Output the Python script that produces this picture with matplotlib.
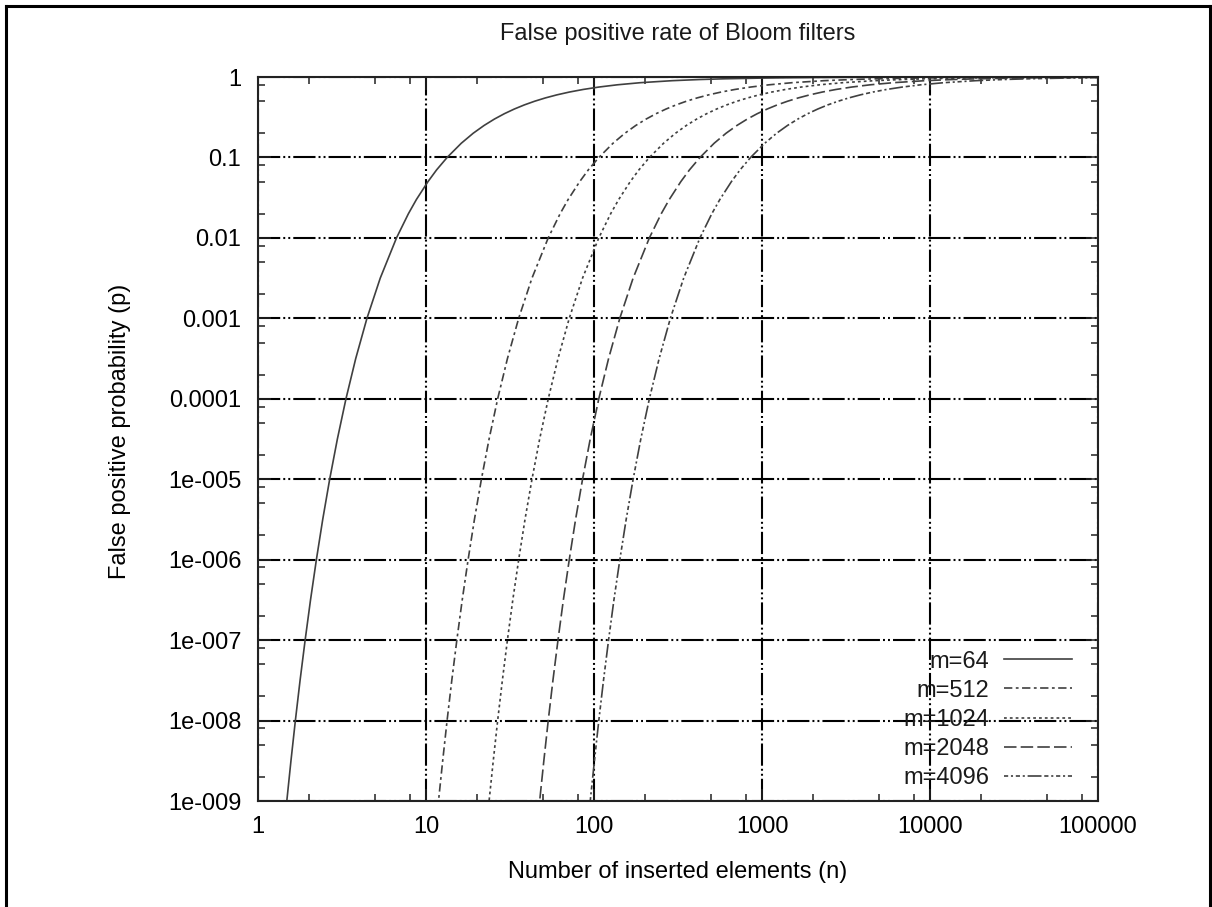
import matplotlib
matplotlib.use('Agg')
import matplotlib.pyplot as plt
from matplotlib.ticker import LogLocator, NullFormatter, FixedLocator, FixedFormatter
from matplotlib.lines import Line2D

p_levels = [1e-10, 3.16e-10, 1e-9, 3.16e-9, 1e-8, 3.16e-8, 1e-7, 3.16e-7, 1e-6, 3.16e-6,
            1e-5, 3.16e-5, 1e-4, 3.16e-4, 1e-3, 3.16e-3, 0.01, 0.02, 0.03, 0.05, 0.07, 0.1,
            0.15, 0.2, 0.25, 0.3, 0.35, 0.4, 0.45, 0.5, 0.55, 0.6, 0.65, 0.7, 0.75, 0.8, 0.85, 0.9,
            0.93, 0.95, 0.97, 0.98, 0.99, 0.995, 0.998, 0.999, 0.9995, 0.9999]

# n at which each curve reaches the p levels above
n_m64 = [1.336, 1.405, 1.484, 1.571, 1.669, 1.780, 1.908, 2.054, 2.226, 2.428,
         2.671, 2.968, 3.339, 3.816, 4.451, 5.341, 6.675, 7.859, 8.768, 10.27, 11.56, 13.36,
         16.21, 19.10, 22.18, 25.54, 29.29, 33.56, 38.51, 44.36, 51.43, 60.19, 71.36, 86.21, 106.9, 137.8, 189.2, 291.8,
         423.7, 599.5, 1009, 1522, 3059, 6134, 15360, 30720, 61500, 307500]
n_m512 = [10.69, 11.24, 11.87, 12.57, 13.35, 14.24, 15.26, 16.43, 17.81, 19.42,
          21.37, 23.74, 26.71, 30.53, 35.61, 42.73, 53.40, 62.87, 70.14, 82.16, 92.48, 106.9,
          129.7, 152.8, 177.4, 204.3, 234.3, 268.5, 308.1, 354.9, 411.4, 481.5, 570.9, 689.7, 855.2, 1102, 1514, 2334,
          3390, 4796, 8072, 12180, 24470, 49070, 122900, 245800, 492000, 2460000]
n_m1024 = [21.38, 22.48, 23.74, 25.14, 26.70, 28.48, 30.52, 32.86, 35.62, 38.84,
           42.74, 47.48, 53.42, 61.06, 71.22, 85.46, 106.8, 125.7, 140.3, 164.3, 185.0, 213.8,
           259.4, 305.6, 354.8, 408.6, 468.6, 537.0, 616.2, 709.8, 822.8, 963.0, 1142, 1379, 1710, 2204, 3028, 4668,
           6780, 9592, 16140, 24360, 48940, 98140, 245800, 491600, 984000, 4920000]
n_m2048 = [42.76, 44.96, 47.48, 50.28, 53.40, 56.96, 61.04, 65.72, 71.24, 77.68,
           85.48, 94.96, 106.8, 122.1, 142.4, 170.9, 213.6, 251.4, 280.6, 328.6, 370.0, 427.6,
           518.8, 611.2, 709.6, 817.2, 937.2, 1074, 1232, 1420, 1646, 1926, 2284, 2758, 3420, 4408, 6056, 9336,
           13560, 19180, 32280, 48720, 97880, 196300, 491600, 983200, 1968000, 9840000]
n_m4096 = [85.52, 89.92, 94.96, 100.6, 106.8, 113.9, 122.1, 131.4, 142.5, 155.4,
           171.0, 189.9, 213.6, 244.2, 284.8, 341.8, 427.2, 502.8, 561.2, 657.2, 740.0, 855.2,
           1038, 1222, 1419, 1634, 1874, 2148, 2464, 2840, 3292, 3852, 4568, 5516, 6840, 8816, 12110, 18670,
           27120, 38360, 64560, 97440, 195800, 392600, 983200, 1966000, 3936000, 19680000]

labels = ['m=64', 'm=512', 'm=1024', 'm=2048', 'm=4096']

xticks = [1, 10, 100, 1000, 10000, 100000]
xtick_labels = ['1', '10', '100', '1000', '10000', '100000']
yticks = [1e-9, 1e-8, 1e-7, 1e-6, 1e-5, 1e-4, 1e-3, 1e-2, 1e-1, 1]
ytick_labels = ['1e-009', '1e-008', '1e-007', '1e-006', '1e-005', '0.0001', '0.001', '0.01', '0.1', '1']

plt.rcParams['font.family'] = ['Liberation Sans', 'DejaVu Sans']
plt.rcParams['font.size'] = 17
plt.rcParams['lines.scale_dashes'] = False
plt.rcParams['text.color'] = '#1a1a1a'

fig = plt.figure(figsize=(12.12, 9.07), dpi=100)
ax = fig.add_axes([258/1212, 1 - 801/907, 840/1212, 724/907])

styles = [
    '-',
    (0, (6, 2.5, 2, 2.5)),
    (0, (2, 2.2)),
    (0, (9, 3)),
    (0, (3, 2, 1.5, 2, 3, 2, 1.5, 2, 10, 2)),
]
all_n = [n_m64, n_m512, n_m1024, n_m2048, n_m4096]
for n_vals, lab, ls in zip(all_n, labels, styles):
    ax.plot(n_vals, p_levels, color='#404040', lw=1.2, linestyle=ls, label=lab)

ax.set_xscale('log')
ax.set_yscale('log')
ax.set_xlim(1, 100000)
ax.set_ylim(1e-9, 1)

ax.xaxis.set_major_locator(FixedLocator(xticks))
ax.xaxis.set_major_formatter(FixedFormatter(xtick_labels))
ax.yaxis.set_major_locator(FixedLocator(yticks))
ax.yaxis.set_major_formatter(FixedFormatter(ytick_labels))
ax.xaxis.set_minor_locator(LogLocator(base=10, subs=[2, 5, 8], numticks=20))
ax.yaxis.set_minor_locator(LogLocator(base=10, subs=[2, 5, 8], numticks=20))
ax.xaxis.set_minor_formatter(NullFormatter())
ax.yaxis.set_minor_formatter(NullFormatter())

ax.tick_params(which='both', direction='in', top=True, right=True, color='#222222', width=1.1)
ax.tick_params(which='major', length=9)
ax.tick_params(which='minor', length=5)
ax.tick_params(axis='x', which='major', pad=11)
ax.tick_params(axis='y', which='major', pad=12)

ax.set_axisbelow(True)
ax.grid(which='major', color='black', lw=1.5, linestyle=(0, (16, 2.2, 1.4, 2.2, 1.4, 2.2)))
for sp in ax.spines.values():
    sp.set_linewidth(1.5)
    sp.set_color('#222222')

fig.text(678/1212, 1 - 34/907, 'False positive rate of Bloom filters', ha='center', va='center')
ax.set_xlabel('Number of inserted elements (n)')
ax.xaxis.set_label_coords(0.5, -(872 - 801)/724)
ax.xaxis.label.set_va('center')
ax.set_ylabel('False positive probability (p)')
ax.yaxis.set_label_coords((120 - 258)/840, 1 - (431 - 77)/724)
ax.yaxis.label.set_va('center')

ax.legend(loc='lower right', bbox_to_anchor=(1 - 26/840, 12/724), frameon=False,
          markerfirst=False, handlelength=2.9, handletextpad=0.6, labelspacing=0.3,
          borderpad=0, borderaxespad=0)

# outer border of the image (no bottom edge)
fig.add_artist(Line2D([6/1212, 6/1212], [0, 1 - 6/907], transform=fig.transFigure, color='black', lw=2.2))
fig.add_artist(Line2D([6/1212, 1210/1212], [1 - 6/907, 1 - 6/907], transform=fig.transFigure, color='black', lw=2.2))
fig.add_artist(Line2D([1210/1212, 1210/1212], [0, 1 - 6/907], transform=fig.transFigure, color='black', lw=2.2))

fig.savefig('out.png', dpi=100)
